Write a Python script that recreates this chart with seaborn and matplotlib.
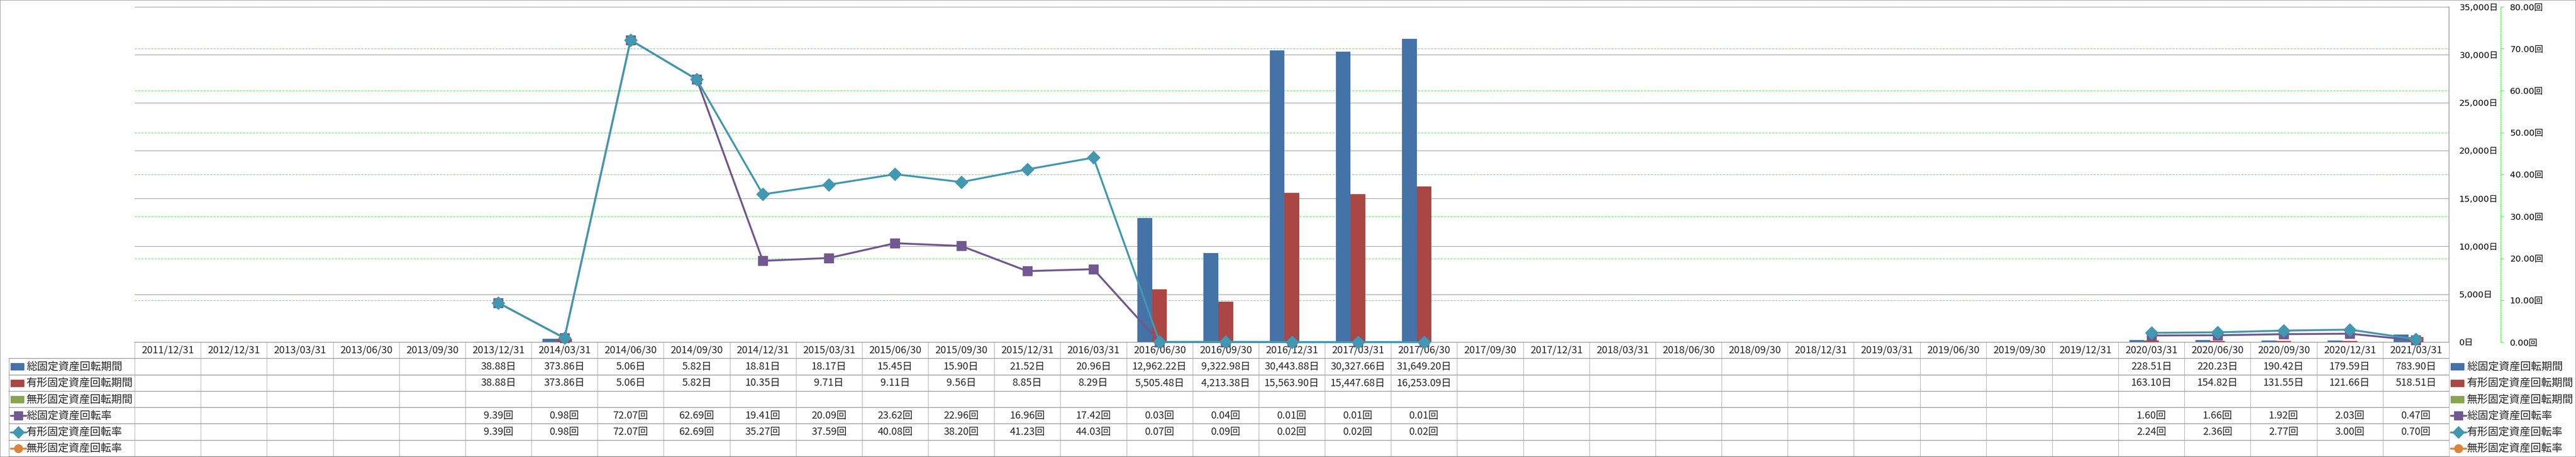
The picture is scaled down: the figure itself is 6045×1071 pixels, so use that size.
import numpy as np
import pandas as pd
import matplotlib
matplotlib.use("Agg")
import matplotlib.pyplot as plt
from matplotlib.patches import Rectangle
from matplotlib.lines import Line2D
from matplotlib.ticker import FuncFormatter, MultipleLocator
import seaborn as sns

# ---- data ----
dates = [
    "2011/12/31", "2012/12/31", "2013/03/31", "2013/06/30", "2013/09/30",
    "2013/12/31", "2014/03/31", "2014/06/30", "2014/09/30", "2014/12/31",
    "2015/03/31", "2015/06/30", "2015/09/30", "2015/12/31", "2016/03/31",
    "2016/06/30", "2016/09/30", "2016/12/31", "2017/03/31", "2017/06/30",
    "2017/09/30", "2017/12/31", "2018/03/31", "2018/06/30", "2018/09/30",
    "2018/12/31", "2019/03/31", "2019/06/30", "2019/09/30", "2019/12/31",
    "2020/03/31", "2020/06/30", "2020/09/30", "2020/12/31", "2021/03/31",
]

total_days = [
    None, None, None, None, None,
    38.88, 373.86, 5.06, 5.82, 18.81,
    18.17, 15.45, 15.90, 21.52, 20.96,
    12962.22, 9322.98, 30443.88, 30327.66, 31649.20,
    None, None, None, None, None,
    None, None, None, None, None,
    228.51, 220.23, 190.42, 179.59, 783.90,
]
tangible_days = [
    None, None, None, None, None,
    38.88, 373.86, 5.06, 5.82, 10.35,
    9.71, 9.11, 9.56, 8.85, 8.29,
    5505.48, 4213.38, 15563.90, 15447.68, 16253.09,
    None, None, None, None, None,
    None, None, None, None, None,
    163.10, 154.82, 131.55, 121.66, 518.51,
]
intangible_days = [None] * 35

total_rate = [
    None, None, None, None, None,
    9.39, 0.98, 72.07, 62.69, 19.41,
    20.09, 23.62, 22.96, 16.96, 17.42,
    0.03, 0.04, 0.01, 0.01, 0.01,
    None, None, None, None, None,
    None, None, None, None, None,
    1.60, 1.66, 1.92, 2.03, 0.47,
]
tangible_rate = [
    None, None, None, None, None,
    9.39, 0.98, 72.07, 62.69, 35.27,
    37.59, 40.08, 38.20, 41.23, 44.03,
    0.07, 0.09, 0.02, 0.02, 0.02,
    None, None, None, None, None,
    None, None, None, None, None,
    2.24, 2.36, 2.77, 3.00, 0.70,
]
intangible_rate = [None] * 35

names = ["総固定資産回転期間", "有形固定資産回転期間", "無形固定資産回転期間",
         "総固定資産回転率", "有形固定資産回転率", "無形固定資産回転率"]
colors = ["#4572A7", "#AA4643", "#89A54E", "#71588F", "#4198AF", "#DB843D"]
units = ["日", "日", "日", "回", "回", "回"]

# ---- figure geometry (pixels) ----
W, H, DPI = 6045, 1071, 100
PT = 72 / DPI
L, R = 316, 5747
TOP, BOT = 16, 802
TBL_BOT = 1070
CAT_W = (R - L) / len(dates)

sns.set_style("white")
plt.rcParams["font.family"] = ["DejaVu Sans", "Noto Sans CJK JP"]
JP = ["Noto Sans CJK JP", "DejaVu Sans"]

fig = plt.figure(figsize=(W / DPI, H / DPI), dpi=DPI)
rect = [L / W, (H - BOT) / H, (R - L) / W, (BOT - TOP) / H]

# bottom layer: secondary grid + secondary axis
ax_g = fig.add_axes(rect)
ax_g.set_zorder(0)
ax_g.set_ylim(0, 80)
ax_g.set_xlim(-0.5, len(dates) - 0.5)
ax_g.yaxis.set_major_locator(MultipleLocator(10))
ax_g.yaxis.grid(True, color="#00FF00", linestyle=(0, (4, 3)), linewidth=1.1 * PT)
ax_g.xaxis.grid(False)
ax_g.set_xticks([])
for s in ["left", "top", "bottom"]:
    ax_g.spines[s].set_visible(False)
ax_g.spines["right"].set_position(("outward", 121 * PT))
ax_g.spines["right"].set_color("#00FF00")
ax_g.spines["right"].set_linestyle((0, (2, 2)))
ax_g.spines["right"].set_linewidth(1.3 * PT)
ax_g.yaxis.tick_right()
ax_g.tick_params(axis="y", length=8 * PT, width=1 * PT, color="#00FF00",
                 pad=14 * PT, labelsize=14.5, labelcolor="#000000")
ax_g.yaxis.set_major_formatter(FuncFormatter(lambda v, p: f"{v:.2f}回"))

# middle layer: bars on the day axis
ax = fig.add_axes(rect)
ax.set_zorder(1)
ax.patch.set_visible(False)

bars = pd.DataFrame({"date": dates * 3,
                     "value": total_days + tangible_days + intangible_days,
                     "series": [names[0]] * 35 + [names[1]] * 35 + [names[2]] * 35})
bars["value"] = bars["value"].astype(float).fillna(0)

sns.barplot(data=bars, x="date", y="value", hue="series", order=dates,
            hue_order=names[:3], palette=colors[:3], width=0.67,
            errorbar=None, saturation=1, linewidth=0, legend=False, ax=ax)
ax.set_xlim(-0.5, len(dates) - 0.5)
ax.set_ylim(0, 35000)
ax.set_xlabel("")
ax.set_ylabel("")
ax.set_xticks([])
ax.yaxis.set_major_locator(MultipleLocator(5000))
ax.set_axisbelow(True)
ax.yaxis.grid(True, color="#8C8C8C", linewidth=1.2 * PT)
ax.xaxis.grid(False)
ax.yaxis.tick_right()
ax.tick_params(axis="y", length=0, pad=24 * PT, labelsize=14.5, labelcolor="#000000")
ax.yaxis.set_major_formatter(FuncFormatter(lambda v, p: f"{v:,.0f}日"))
for s in ["left", "top"]:
    ax.spines[s].set_visible(False)
for s in ["right", "bottom"]:
    ax.spines[s].set_color("#8C8C8C")
    ax.spines[s].set_linewidth(1.5 * PT)

# top layer: rate lines
ax2 = fig.add_axes(rect)
ax2.set_zorder(2)
ax2.patch.set_visible(False)
ax2.set_xlim(-0.5, len(dates) - 0.5)
ax2.set_ylim(0, 80)
ax2.axis("off")
xs = np.arange(len(dates))
ax2.plot(xs, np.array(total_rate, dtype=float), color=colors[3], lw=4.5 * PT,
         marker="s", ms=16, mec=colors[3], clip_on=False)
ax2.plot(xs, np.array(tangible_rate, dtype=float), color=colors[4], lw=4.5 * PT,
         marker="D", ms=15, mec=colors[4], clip_on=False)

# ---- data table under the plot ----
tb = fig.add_axes([L / W, (H - TBL_BOT) / H, (R - L) / W, (TBL_BOT - BOT) / H])
tb.set_zorder(0.5)
tb.patch.set_visible(False)
tb.set_xlim(-0.5, len(dates) - 0.5)
tb.set_ylim(7, 0)
tb.axis("off")


def px_x(px):
    return (px - L) / CAT_W - 0.5


left_edge = px_x(21)
line_c = "#8C8C8C"
for r in range(1, 8):
    tb.plot([left_edge, len(dates) - 0.5], [r, r], color=line_c,
            lw=1.5 * PT, clip_on=False)
tb.plot([left_edge, left_edge], [1, 7], color=line_c, lw=1.2 * PT, clip_on=False)
for k in range(len(dates) + 1):
    tb.plot([k - 0.5, k - 0.5], [0, 7], color="#A0A0A0", lw=1 * PT, clip_on=False)

for i, d in enumerate(dates):
    tb.text(i, 0.5, d, ha="center", va="center", fontsize=17, family=JP)

table_rows = [total_days, tangible_days, intangible_days,
              total_rate, tangible_rate, intangible_rate]
for r, (vals, unit) in enumerate(zip(table_rows, units), start=1):
    for i, v in enumerate(vals):
        if v is not None:
            tb.text(i, r + 0.5, f"{v:,.2f}{unit}", ha="center", va="center",
                    fontsize=17, family=JP)

line_markers = ["s", "D", "o"]


def legend_key(x_left, y, k):
    if k < 3:
        tb.add_patch(Rectangle((x_left, y - 0.21), 31 / CAT_W, 0.42,
                               color=colors[k], clip_on=False))
    else:
        x0, x1 = x_left, x_left + 36 / CAT_W
        tb.add_line(Line2D([x0, x1], [y, y], color=colors[k], lw=4.5 * PT,
                           clip_on=False))
        tb.add_line(Line2D([(x0 + x1) / 2], [y], color=colors[k],
                           marker=line_markers[k - 3], ms=14, clip_on=False))


for k, name in enumerate(names):
    y = k + 1.5
    legend_key(px_x(25), y, k)
    tb.text(px_x(62), y, name, ha="left", va="center", fontsize=18, family=JP,
            clip_on=False)
    legend_key(px_x(5751), y, k)
    tb.text(px_x(5789), y, name, ha="left", va="center", fontsize=18, family=JP,
            clip_on=False)

# outer frame
fig.patches.append(Rectangle((0, 0), 1, 1, transform=fig.transFigure, fill=False,
                             edgecolor="#8C8C8C", linewidth=2 * PT))

fig.savefig("out.png", dpi=DPI)
